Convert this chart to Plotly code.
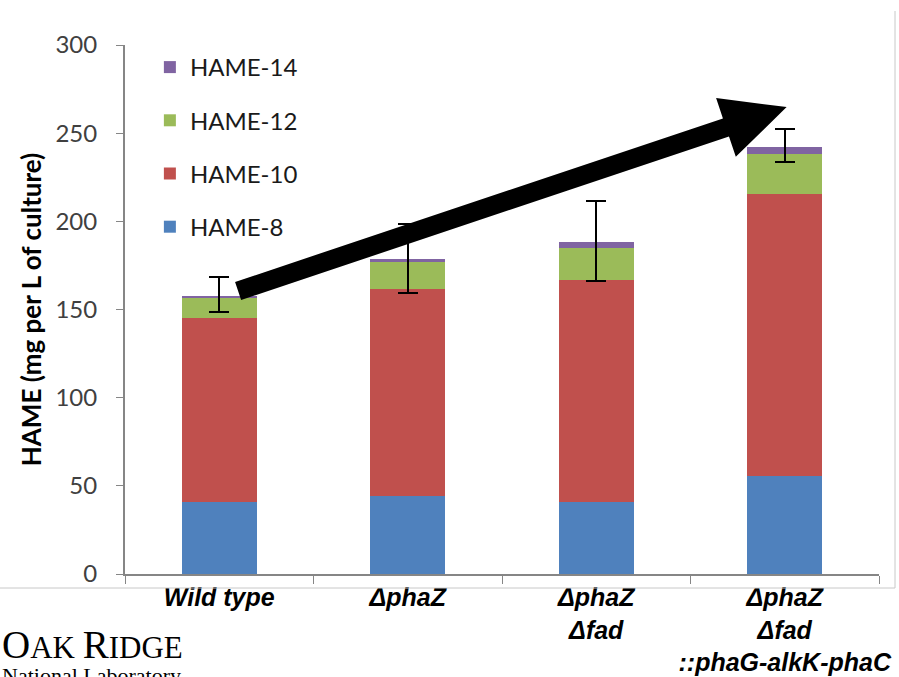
import plotly.graph_objects as go
import math

# ---- data ----
categories = ["Wild type", "ΔphaZ", "ΔphaZ Δfad", "ΔphaZ Δfad ::phaG-alkK-phaC"]
tick_labels = [
    "<b><i>Wild type</i></b>",
    "<b><i>ΔphaZ</i></b>",
    "<b><i>ΔphaZ<br>Δfad</i></b>",
    "<b><i>ΔphaZ<br>Δfad<br>::phaG-alkK-phaC</i></b>",
]
hame8 = [41, 44, 41, 55.5]
hame10 = [104, 117.5, 126, 160]
hame12 = [12, 15.5, 18, 22.5]
hame14 = [0.8, 1.5, 3, 4]
err_plus = [10.7, 20, 23.6, 10.4]
err_minus = [9.2, 19.1, 21.8, 8.3]
y_ticks = [0, 50, 100, 150, 200, 250, 300]
arrow_from = (0.10, 160.5)   # (category index, value)
arrow_to = (3.01, 264.8)

# ---- layout geometry (pixels) ----
W, H = 899, 677
L, R, T, B = 125, 20, 45, 103
PW, PH = W - L - R, H - T - B
YMAX = 300

def px(xi, v):
    return L + (xi + 0.5) * PW / len(categories), T + PH - v * PH / YMAX

def to_paper(x, y):
    return (x - L) / PW, (T + PH - y) / PH

blue, red, green, purple = "#4F81BD", "#C0504D", "#9BBB59", "#8064A2"

fig = go.Figure()
series = [("HAME-8", hame8, blue), ("HAME-10", hame10, red),
          ("HAME-12", hame12, green), ("HAME-14", hame14, purple)]
for i, (name, vals, col) in enumerate(series):
    kw = {}
    if name == "HAME-14":
        kw["error_y"] = dict(type="data", symmetric=False, array=err_plus,
                             arrayminus=err_minus, color="black",
                             thickness=2, width=10)
    fig.add_trace(go.Bar(x=categories, y=vals, name=name, marker_color=col,
                         marker_line_width=0, legendgroup=name,
                         legendrank=len(series) - i, **kw))

# arrow as polygon computed from data-space endpoints
tx, ty = px(*arrow_from)
hx, hy = px(*arrow_to)
dx, dy = hx - tx, hy - ty
ln = math.hypot(dx, dy)
ux, uy = dx / ln, dy / ln
nx, ny = -uy, ux
sw, hw, hl = 9.5, 31, 64
bx, by = hx - ux * hl, hy - uy * hl
pts = [(tx + nx * sw, ty + ny * sw), (bx + nx * sw, by + ny * sw),
       (bx + nx * hw, by + ny * hw), (hx, hy),
       (bx - nx * hw, by - ny * hw), (bx - nx * sw, by - ny * sw),
       (tx - nx * sw, ty - ny * sw)]
pp = [to_paper(x, y) for x, y in pts]
path = "M" + " L".join(f"{x:.5f},{y:.5f}" for x, y in pp) + " Z"

shapes = [
    dict(type="path", path=path, xref="paper", yref="paper",
         fillcolor="black", line=dict(width=0), layer="above"),
]
# chart-area frame (right and bottom)
fx0, fy0 = to_paper(0, 588)
fx1, fy1 = to_paper(895, 11)
shapes.append(dict(type="line", xref="paper", yref="paper", x0=fx0, x1=fx1,
                   y0=fy0, y1=fy0, line=dict(color="#C8C8C8", width=1)))
shapes.append(dict(type="line", xref="paper", yref="paper", x0=fx1, x1=fx1,
                   y0=fy0, y1=fy1, line=dict(color="#C8C8C8", width=1)))

lx1, ly1 = to_paper(0, 644)
lx2, ly2 = to_paper(0, 661)
annotations = [
    dict(text="<span style='font-size:39px'>O</span>AK <span style='font-size:39px'>R</span>IDGE",
         xref="paper", yref="paper", x=lx1, y=ly1, xanchor="left", yanchor="middle",
         showarrow=False, font=dict(family="Liberation Serif", size=31, color="black")),
    dict(text="National Laboratory", xref="paper", yref="paper", x=lx2, y=ly2,
         xanchor="left", yanchor="top", showarrow=False,
         font=dict(family="Liberation Serif", size=22, color="black")),
]

fig.update_layout(
    width=W, height=H,
    margin=dict(l=L, r=R, t=T, b=B, autoexpand=False),
    paper_bgcolor="white", plot_bgcolor="white",
    barmode="stack", bargap=0.6,
    showlegend=True,
    legend=dict(x=0.033, y=1.0, xanchor="left", yanchor="top",
                traceorder="grouped", tracegroupgap=19,
                font=dict(family="Lato", size=24, color="#1a1a1a"),
                bgcolor="rgba(0,0,0,0)"),
    shapes=shapes, annotations=annotations,
    xaxis=dict(tickmode="array", tickvals=categories, ticktext=tick_labels,
               tickson="boundaries", ticks="outside", ticklen=8, tickcolor="#868686",
               tickangle=0,
               showline=True, linecolor="#868686", linewidth=2,
               tickfont=dict(family="Liberation Sans", size=25, color="black"),
               showgrid=False, fixedrange=True),
    yaxis=dict(range=[0, YMAX], tickvals=y_ticks, ticks="outside", ticklen=7,
               tickcolor="#868686", showline=True, linecolor="#868686", linewidth=2,
               tickfont=dict(family="Lato", size=24, color="#404040"),
               ticklabelstandoff=14,
               title=dict(text="<b>HAME (mg per L of culture)</b>",
                          font=dict(family="Lato", size=26, color="black"), standoff=6),
               showgrid=False, zeroline=False),
)

fig.write_html("out.html")
